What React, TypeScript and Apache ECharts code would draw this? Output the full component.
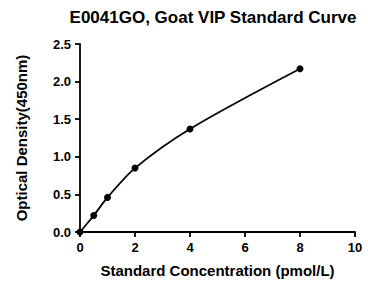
import React, { useEffect, useRef } from "react";
import * as echarts from "echarts";

const concentrations = [0, 0.5, 1, 2, 4, 8];
const odValues = [0.0, 0.22, 0.46, 0.85, 1.37, 2.17];
const titleText = "E0041GO, Goat VIP Standard Curve";
const xName = "Standard Concentration (pmol/L)";
const yName = "Optical Density(450nm)";

const FONT = "Arial, 'Liberation Sans', sans-serif";

export default function App() {
  const ref = useRef<HTMLDivElement>(null);
  useEffect(() => {
    if (!ref.current) return;
    const chart = echarts.init(ref.current, undefined, { renderer: "svg" });
    const axisCommon = {
      axisLine: { show: true, lineStyle: { color: "#000", width: 1.8 } },
      axisTick: { show: true, length: 5, lineStyle: { color: "#000", width: 1.8 } },
      splitLine: { show: false },
      nameLocation: "middle" as const,
      nameTextStyle: { fontFamily: FONT, fontWeight: "bold" as const, fontSize: 15, color: "#000" },
    };
    chart.setOption({
      animation: false,
      backgroundColor: "#fff",
      grid: { left: 80, right: 13, top: 44, bottom: 54, containLabel: false },
      graphic: [
        {
          type: "text",
          x: 213,
          y: 17,
          style: {
            text: titleText,
            fontFamily: FONT,
            fontWeight: "bold",
            fontSize: 17,
            fill: "#000",
            textAlign: "center",
            textVerticalAlign: "middle",
          },
        },
      ],
      xAxis: {
        type: "value",
        min: 0,
        max: 10,
        interval: 2,
        name: xName,
        nameGap: 31,
        ...axisCommon,
        axisLabel: { fontFamily: FONT, fontWeight: "bold", fontSize: 13, color: "#000", margin: 9 },
      },
      yAxis: {
        type: "value",
        min: 0,
        max: 2.5,
        interval: 0.5,
        name: yName,
        nameGap: 51,
        ...axisCommon,
        axisLabel: {
          fontFamily: FONT,
          fontWeight: "bold",
          fontSize: 13,
          color: "#000",
          margin: 9,
          formatter: (v: number) => v.toFixed(1),
        },
      },
      series: [
        {
          type: "line",
          data: concentrations.map((c, i) => [c, odValues[i]]),
          smooth: 0.3,
          symbol: "circle",
          symbolSize: 7,
          itemStyle: { color: "#000" },
          lineStyle: { color: "#000", width: 1.8 },
          clip: false,
        },
      ],
    });
    return () => chart.dispose();
  }, []);
  return <div ref={ref} style={{ width: 368, height: 286, position: "absolute", left: 0, top: 0 }} />;
}
